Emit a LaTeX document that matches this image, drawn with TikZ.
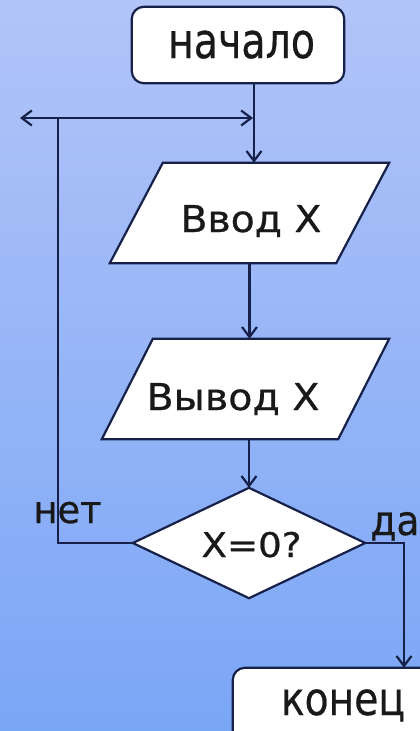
\documentclass[tikz,border=0pt]{standalone}
\usepackage{fontspec}
\usepackage{graphicx}
\setmainfont[FakeBold=0.6]{DejaVu Sans}
\usetikzlibrary{arrows.meta}
\definecolor{ln}{RGB}{22,32,72}
\definecolor{bgtop}{RGB}{178,196,248}
\definecolor{bgbot}{RGB}{122,166,246}
\newcommand\fitlbl[3]{\fontsize{#1}{#1}\selectfont\resizebox{#2}{\height}{#3}}
\tikzset{
  conn/.style={draw=ln, line width=2.2pt},
  arr/.style={conn, -{Straight Barb[length=10pt,width=15pt]}},
  shapebox/.style={draw=ln, line width=2.2pt, fill=white, line join=miter},
  term/.style={shapebox, rounded corners=12pt, inner sep=0pt},
  frame/.style={inner sep=0pt},
  lbl/.style={inner sep=0pt, anchor=base, text=black!90},
}
\begin{document}
\begin{tikzpicture}[x=1pt,y=-1pt]
\useasboundingbox (0,0) rectangle (420,731);
\clip (0,0) rectangle (420,731);
\begin{scope}[yscale=-1]
  \shade[top color=bgtop,bottom color=bgbot] (0,0) rectangle (420,-731);
\end{scope}

% frames
\node[frame, minimum width=212pt, minimum height=76pt] (start) at (238,45) {};
\node[frame, minimum width=279pt, minimum height=100pt] (in) at (249.5,213) {};
\node[frame, minimum width=287pt, minimum height=100pt] (out) at (245.5,389) {};
\node[frame, minimum width=232pt, minimum height=110pt] (dec) at (249,543) {};
\node[frame, minimum width=230pt, minimum height=84pt] (end) at (348,710) {};

% shapes
\draw[term] (start.north west) rectangle (start.south east);
\draw[shapebox] ([xshift=53pt]in.north west) -- (in.north east) -- ([xshift=-53pt]in.south east) -- (in.south west) -- cycle;
\draw[shapebox] ([xshift=51pt]out.north west) -- (out.north east) -- ([xshift=-51pt]out.south east) -- (out.south west) -- cycle;
\draw[shapebox] (dec.north) -- (dec.east) -- (dec.south) -- (dec.west) -- cycle;
\draw[term] (end.north west) rectangle (end.south east);

% labels
\node[lbl] (tstart) at (241.5,58) {\fitlbl{49pt}{147pt}{начало}};
\node[lbl] (tin) at (251,232) {\fitlbl{37pt}{141pt}{Ввод X}};
\node[lbl] (tout) at (233,410) {\fitlbl{37pt}{173pt}{Вывод X}};
\node[lbl] (tdec) at (251.5,557) {\fitlbl{34pt}{100pt}{X=0?}};
\node[lbl] (tend) at (343,715) {\fitlbl{46pt}{124pt}{конец}};
\node[lbl] (tno) at (67.5,523) {\fitlbl{38pt}{68pt}{нет}};
\node[lbl] (tyes) at (395,535) {\fitlbl{41pt}{49pt}{да}};

% connectors
\coordinate (jx) at (254,0);
\coordinate (loopc) at (58,118);
\coordinate (lefttip) at (20,118);
\coordinate (rtip) at (253,118);
\coordinate (dx) at (404,0);

\draw[arr] (start.south -| jx) -- (jx |- in.north);
\draw[arr] (in.south) -- (in.south |- out.north);
\draw[arr] (out.south -| dec.north) -- (dec.north);
\draw[arr] (dec.west) -| (loopc) -- (rtip);
\draw[arr] (loopc) -- (lefttip);
\draw[arr] (dec.east) -| (dx |- end.north);
\end{tikzpicture}
\end{document}
